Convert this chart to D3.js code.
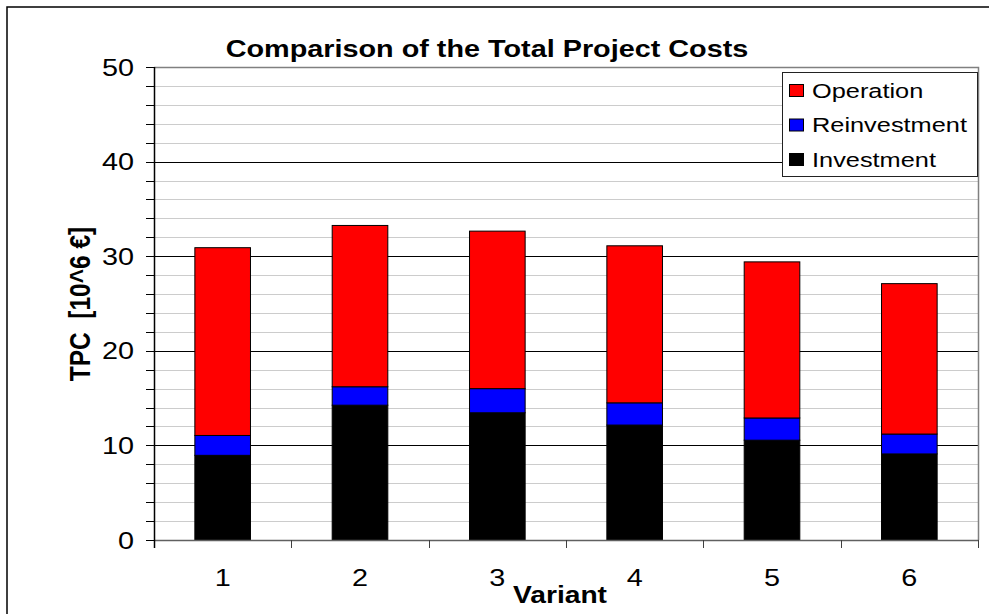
<!DOCTYPE html>
<html>
<head>
<meta charset="utf-8">
<script src="https://cdn.jsdelivr.net/npm/d3@7"></script>
<style>
  html, body { margin: 0; padding: 0; background: #fff; }
  svg { display: block; font-family: "Liberation Sans", Arial, sans-serif; }
  text { white-space: pre; }
</style>
</head>
<body>
<svg id="chart" width="989" height="614"></svg>
<script>
// ---- data ----
const categories   = ["1", "2", "3", "4", "5", "6"];
const investment   = [8.95, 14.25, 13.45, 12.15, 10.55, 9.1];
const reinvestment = [2.1, 1.95, 2.55, 2.35, 2.35, 2.1];
const operation    = [19.85, 17.05, 16.65, 16.6, 16.5, 15.9];
const seriesNames  = ["Investment", "Reinvestment", "Operation"];
const seriesColors = ["#000000", "#0000ff", "#ff0000"];
const yMajorTicks  = [0, 10, 20, 30, 40, 50];
const yMinorTicks  = d3.range(0, 51, 2);
const titleText = "Comparison of the Total Project Costs";
const xTitle = "Variant";
const yTitle = "TPC  [10^6 \u20ac]";

// ---- layout ----
const SX = 1.2;   // horizontal text stretch of the original picture
const SXL = 1.3;  // legend text stretch
const plot = { left: 154, right: 978, top: 67, bottom: 540 };
const svg = d3.select("#chart");

// outer frame
svg.append("rect").attr("x", 7).attr("y", 7).attr("width", 1200).attr("height", 900)
  .attr("fill", "none").attr("stroke", "#000").attr("stroke-width", 1.5);

const y = d3.scaleLinear().domain([0, 50]).range([plot.bottom, plot.top]);
const x = d3.scaleBand().domain(categories).range([plot.left, plot.right])
  .paddingInner(0.595).paddingOuter(0.2975);
const step = x.step();

// gridlines
svg.append("g").selectAll("line").data(yMinorTicks.filter(v => v % 10 !== 0))
  .join("line")
  .attr("x1", plot.left).attr("x2", plot.right)
  .attr("y1", d => Math.round(y(d)) + 0.5).attr("y2", d => Math.round(y(d)) + 0.5)
  .attr("stroke", "#cccccc").attr("stroke-width", 1);
svg.append("g").selectAll("line").data(yMajorTicks.filter(v => v > 0 && v < 50))
  .join("line")
  .attr("x1", plot.left).attr("x2", plot.right)
  .attr("y1", d => Math.round(y(d)) + 0.5).attr("y2", d => Math.round(y(d)) + 0.5)
  .attr("stroke", "#000").attr("stroke-width", 1);

// plot border (top & right)
svg.append("path")
  .attr("d", `M${plot.left},${Math.round(y(50)) + 0.5}H${plot.right + 0.5}V${plot.bottom}`)
  .attr("fill", "none").attr("stroke", "#808080").attr("stroke-width", 1.5);

// stacked bars
const rows = categories.map((c, i) => ({ cat: c, Investment: investment[i], Reinvestment: reinvestment[i], Operation: operation[i] }));
const stacked = d3.stack().keys(seriesNames)(rows);
svg.append("g").selectAll("g").data(stacked).join("g")
  .attr("fill", (d, i) => seriesColors[i])
  .selectAll("rect").data(d => d).join("rect")
  .attr("x", d => x(d.data.cat))
  .attr("width", x.bandwidth())
  .attr("y", d => y(d[1]))
  .attr("height", d => y(d[0]) - y(d[1]))
  .attr("stroke", "#000").attr("stroke-width", 1);

// x axis
const xAxisG = svg.append("g").attr("transform", `translate(0,${plot.bottom})`);
xAxisG.append("line").attr("x1", plot.left).attr("x2", plot.right + 1)
  .attr("y1", 0.5).attr("y2", 0.5).attr("stroke", "#606060").attr("stroke-width", 1.5);
const boundaries = categories.map(c => x(c) - x.paddingOuter() * step);
boundaries.push(plot.right);
xAxisG.selectAll("line.tick").data(boundaries).join("line").attr("class", "tick")
  .attr("x1", d => Math.round(d) + 0.5).attr("x2", d => Math.round(d) + 0.5)
  .attr("y1", 0).attr("y2", 8).attr("stroke", "#404040").attr("stroke-width", 1);
xAxisG.selectAll("g.lab").data(categories).join("g").attr("class", "lab")
  .attr("transform", d => `translate(${x(d) + x.bandwidth() / 2},46) scale(${SX},1)`)
  .append("text").attr("text-anchor", "middle").attr("font-size", 24).attr("fill", "#000")
  .text(d => d);

// y axis
const yAxisG = svg.append("g").attr("transform", `translate(${plot.left},0)`);
yAxisG.append("line").attr("x1", 0.5).attr("x2", 0.5)
  .attr("y1", plot.top).attr("y2", plot.bottom + 8).attr("stroke", "#000").attr("stroke-width", 1.5);
yAxisG.selectAll("line.tick").data(yMinorTicks).join("line").attr("class", "tick")
  .attr("x1", -8).attr("x2", 0)
  .attr("y1", d => Math.round(y(d)) + 0.5).attr("y2", d => Math.round(y(d)) + 0.5)
  .attr("stroke", "#000").attr("stroke-width", 1);
yAxisG.selectAll("g.lab").data(yMajorTicks).join("g").attr("class", "lab")
  .attr("transform", d => `translate(-20,${y(d) + 8.5}) scale(${SX},1)`)
  .append("text").attr("text-anchor", "end").attr("font-size", 24).attr("fill", "#000")
  .text(d => d);

// titles
svg.append("g").attr("transform", `translate(487,57) scale(${SX},1)`)
  .append("text").attr("text-anchor", "middle").attr("font-size", 24).attr("font-weight", "bold")
  .text(titleText);
svg.append("g").attr("transform", `translate(560,603) scale(${SX},1)`)
  .append("text").attr("text-anchor", "middle").attr("font-size", 23.5).attr("font-weight", "bold")
  .text(xTitle);
svg.append("g").attr("transform", `translate(90,304) scale(${SX},1) rotate(-90)`)
  .append("text").attr("text-anchor", "middle").attr("font-size", 24.5).attr("font-weight", "bold")
  .text(yTitle);

// legend
const legendOrder = ["Operation", "Reinvestment", "Investment"];
const lg = svg.append("g");
lg.append("rect").attr("x", 782.5).attr("y", 72.5).attr("width", 195).attr("height", 104)
  .attr("fill", "#fff").attr("stroke", "#222").attr("stroke-width", 1);
const items = lg.selectAll("g.item").data(legendOrder).join("g").attr("class", "item")
  .attr("transform", (d, i) => `translate(0,${97.5 + i * 34.5})`);
items.append("rect").attr("x", 789.5).attr("y", -13).attr("width", 14).attr("height", 12)
  .attr("fill", d => seriesColors[seriesNames.indexOf(d)]).attr("stroke", "#000").attr("stroke-width", 1);
items.append("g").attr("transform", `translate(812,0) scale(${SXL},1)`)
  .append("text").attr("font-size", 19.5).attr("fill", "#000").text(d => d);
</script>
</body>
</html>
